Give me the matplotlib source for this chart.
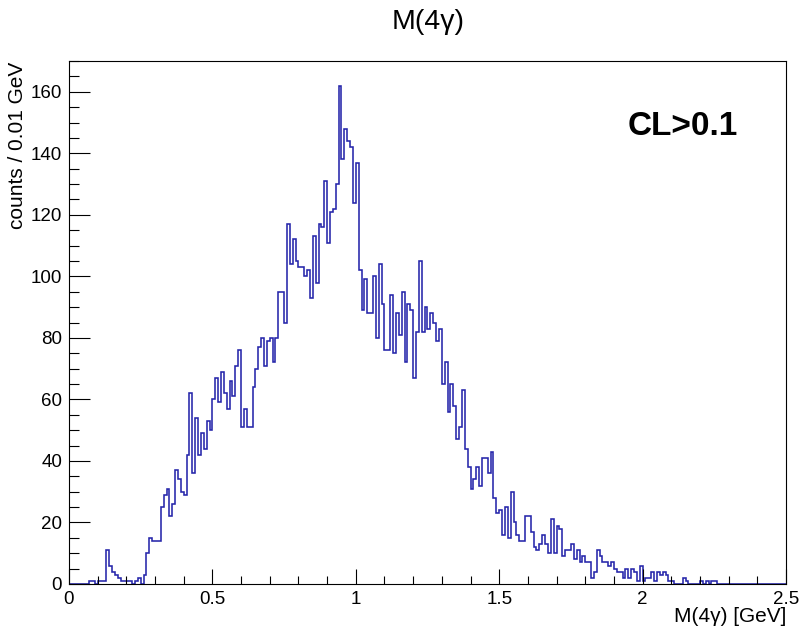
import matplotlib
matplotlib.use("Agg")
import matplotlib.pyplot as plt
from matplotlib.ticker import MultipleLocator
import numpy as np

# histogram M(4gamma), 250 bins of 0.01 GeV from 0 to 2.5
bin_width = 0.01
x_min, x_max = 0.0, 2.5
counts = [
    0, 0, 0, 0, 0, 0, 0, 1, 1, 0,          # 0.00 - 0.09
    1, 1, 1, 11, 6, 4, 3, 2, 1, 1,          # 0.10 - 0.19
    1, 1, 0, 1, 2, 0, 3, 10, 15, 14,        # 0.20 - 0.29
    14, 14, 25, 29, 31, 22, 26, 37, 34, 30,  # 0.30 - 0.39
    29, 42, 62, 36, 54, 42, 49, 44, 53, 50,  # 0.40 - 0.49
    60, 67, 59, 69, 62, 57, 66, 61, 71, 76,  # 0.50 - 0.59
    51, 57, 51, 51, 64, 70, 77, 80, 71, 79,  # 0.60 - 0.69
    80, 72, 80, 95, 95, 85, 117, 104, 112, 105,   # 0.70 - 0.79
    103, 103, 100, 102, 93, 113, 98, 117, 116, 131,  # 0.80 - 0.89
    111, 121, 122, 130, 162, 138, 148, 144, 142, 124,  # 0.90 - 0.99
    137, 102, 89, 99, 88, 88, 100, 80, 104, 91,  # 1.00 - 1.09
    76, 76, 94, 75, 88, 81, 95, 72, 91, 89,  # 1.10 - 1.19
    67, 82, 105, 82, 90, 83, 88, 85, 79, 83,  # 1.20 - 1.29
    65, 72, 56, 65, 58, 47, 51, 63, 44, 38,  # 1.30 - 1.39
    31, 34, 38, 32, 41, 41, 36, 43, 28, 23,  # 1.40 - 1.49
    24, 16, 25, 15, 30, 20, 16, 14, 14, 22,  # 1.50 - 1.59
    22, 17, 12, 11, 13, 16, 13, 10, 21, 10,  # 1.60 - 1.69
    19, 18, 9, 11, 11, 13, 8, 11, 7, 9,      # 1.70 - 1.79
    7, 7, 2, 4, 11, 9, 7, 7, 6, 7,           # 1.80 - 1.89
    5, 4, 4, 2, 5, 2, 5, 4, 1, 6,            # 1.90 - 1.99
    1, 2, 2, 4, 1, 4, 3, 4, 3, 1,            # 2.00 - 2.09
    1, 0, 0, 0, 2, 1, 0, 0, 0, 0,            # 2.10 - 2.19
    1, 0, 1, 0, 1, 1, 0, 0, 0, 0,            # 2.20 - 2.29
    0, 0, 0, 0, 0, 0, 0, 0, 0, 0,            # 2.30 - 2.39
    0, 0, 0, 0, 0, 0, 0, 0, 0, 0,            # 2.40 - 2.49
]
edges = np.linspace(x_min, x_max, len(counts) + 1)

plt.rcParams['font.family'] = ['Liberation Sans', 'DejaVu Sans']

fig = plt.figure(figsize=(8.03, 6.30), dpi=100, facecolor='white')
ax = fig.add_axes([69 / 803, 46 / 630, 717 / 803, 523 / 630])

ax.stairs(counts, edges, color='#2525aa', linewidth=1.15)

ax.set_xlim(x_min, x_max)
ax.set_ylim(0, 170)

ax.xaxis.set_major_locator(MultipleLocator(0.5))
ax.xaxis.set_minor_locator(MultipleLocator(0.1))
ax.yaxis.set_major_locator(MultipleLocator(20))
ax.yaxis.set_minor_locator(MultipleLocator(5))
ax.xaxis.set_major_formatter(plt.FuncFormatter(lambda v, p: f'{v:g}'))

ax.tick_params(which='both', direction='in', top=False, right=False,
               labelsize=13.5, width=0.8)
ax.tick_params(axis='x', which='major', length=11, pad=5)
ax.tick_params(axis='x', which='minor', length=5.5)
ax.tick_params(axis='y', which='major', length=15, pad=5)
ax.tick_params(axis='y', which='minor', length=7.5)
for s in ax.spines.values():
    s.set_linewidth(0.8)

fig.text(428.5 / 803, 1 - 22 / 630, 'M(4\u03b3)', ha='center', va='center',
         fontsize=20.5)
fig.text(18 / 803, 1 - 62 / 630, 'counts / 0.01 GeV', rotation=90,
         ha='center', va='top', fontsize=15)
fig.text(786 / 803, 1 - 617 / 630, 'M(4\u03b3) [GeV]', ha='right',
         va='center', fontsize=15)
ax.text(0.779, 0.875, 'CL>0.1', transform=ax.transAxes, fontsize=24,
        fontweight='bold', ha='left', va='center')

fig.savefig('out.png', dpi=100, facecolor='white')
